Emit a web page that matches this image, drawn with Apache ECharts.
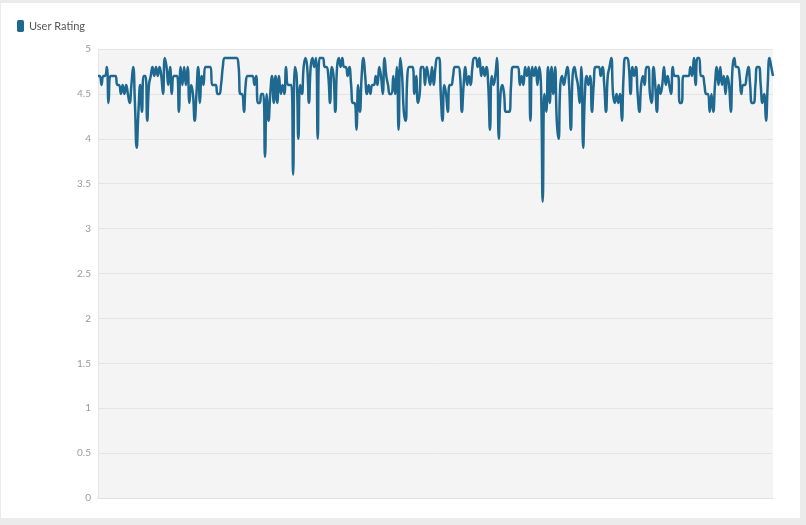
<!DOCTYPE html>
<html>
<head>
<meta charset="utf-8">
<script src="https://cdn.jsdelivr.net/npm/echarts@6/dist/echarts.min.js"></script>
<style>
  html, body { margin: 0; padding: 0; background: #ebebeb; }
  #chart { position: absolute; left: 1px; top: 3px; width: 799px; height: 515px; background: #fff; }
</style>
</head>
<body>
<div id="chart"></div>
<script>
// ratings, read left to right off the picture
const seg1 = [4.7, 4.7, 4.6, 4.7, 4.7, 4.8, 4.4, 4.7, 4.7, 4.7, 4.7, 4.6, 4.6, 4.5, 4.6, 4.5, 4.6, 4.5, 4.4, 4.6, 4.8, 4.4,
  3.9, 4.3, 4.6, 4.3, 4.7, 4.7, 4.2, 4.6, 4.7, 4.8, 4.7, 4.8, 4.7, 4.8, 4.7, 4.5, 4.9, 4.8, 4.6, 4.8, 4.5, 4.7];
const seg2 = [4.7, 4.7, 4.3, 4.8, 4.6, 4.8, 4.6, 4.8, 4.4, 4.6, 4.5, 4.2, 4.5, 4.8, 4.4, 4.7, 4.6, 4.8, 4.8, 4.8, 4.8,
  4.6, 4.6, 4.6, 4.5, 4.5, 4.6, 4.8, 4.9, 4.9, 4.9, 4.9, 4.9, 4.9, 4.9, 4.9, 4.8, 4.5, 4.5, 4.3, 4.6, 4.7, 4.7, 4.7,
  4.7, 4.6, 4.7, 4.4, 4.4];
const seg3 = [4.5, 4.5, 3.8, 4.5, 4.2, 4.5, 4.7, 4.4, 4.7, 4.4, 4.7, 4.5, 4.6, 4.5, 4.8, 4.6, 4.6, 4.6, 3.6, 4.8,
  4.7, 4.0, 4.6, 4.5, 4.8, 4.9, 4.8, 4.4, 4.8, 4.9, 4.8, 4.9, 4.0, 4.9, 4.9, 4.9, 4.8, 4.8, 4.7, 4.4, 4.8, 4.7,
  4.3, 4.8, 4.9, 4.8];
const seg4 = [4.9, 4.8, 4.8, 4.7, 4.8, 4.6, 4.4, 4.4, 4.1, 4.6, 4.3, 4.7, 4.9, 4.7, 4.5, 4.6, 4.5, 4.6, 4.6, 4.7,
  4.6, 4.8, 4.7, 4.5, 4.9, 4.7, 4.6, 4.5, 4.5, 4.7, 4.5, 4.8, 4.1, 4.9, 4.7, 4.3, 4.2, 4.7, 4.8, 4.8, 4.8, 4.5,
  4.7, 4.4, 4.5, 4.8, 4.8];
const seg5 = [4.6, 4.8, 4.7, 4.6, 4.8, 4.6, 4.8, 4.9, 4.9, 4.5, 4.2, 4.6, 4.5, 4.3, 4.6, 4.6, 4.7, 4.8, 4.8, 4.8,
  4.7, 4.3, 4.6, 4.8, 4.6, 4.7, 4.6, 4.8, 4.9, 4.9, 4.8, 4.9, 4.7, 4.8, 4.7, 4.8, 4.6, 4.1, 4.7, 4.6, 4.7, 4.9,
  4.0, 4.5, 4.6, 4.5, 4.3, 4.3];
const seg6 = [4.3, 4.6, 4.8, 4.8, 4.8, 4.8, 4.6, 4.7, 4.6, 4.8, 4.7, 4.8, 4.2, 4.8, 4.7, 4.8, 4.6, 4.8, 4.6, 3.3,
  4.5, 4.3, 4.8, 4.4, 4.8, 4.5, 4.8, 4.2, 4.0, 4.6, 4.7, 4.6, 4.7, 4.8, 4.6, 4.1, 4.7, 4.8, 4.7, 4.6, 4.4, 4.8,
  3.9, 4.5, 4.7, 4.6, 4.7, 4.3, 4.6, 4.8, 4.8];
const seg7 = [4.8, 4.7, 4.8, 4.6, 4.3, 4.7, 4.8, 4.9, 4.5, 4.4, 4.5, 4.4, 4.5, 4.2, 4.7, 4.9, 4.9, 4.8, 4.5,
  4.8, 4.7, 4.8, 4.5, 4.3, 4.6, 4.7, 4.6, 4.8, 4.8, 4.5, 4.4, 4.8, 4.6, 4.3, 4.6, 4.5, 4.6, 4.8, 4.6, 4.7,
  4.6, 4.5, 4.8, 4.7, 4.7, 4.7, 4.4, 4.4, 4.7, 4.7];
const seg8 = [4.7, 4.7, 4.8, 4.7, 4.9, 4.6, 4.9, 4.9, 4.7, 4.7, 4.6, 4.5, 4.5, 4.3, 4.5, 4.3, 4.6, 4.8, 4.6,
  4.8, 4.6, 4.7, 4.5, 4.7, 4.6, 4.3, 4.8, 4.9, 4.8, 4.8, 4.7, 4.5, 4.6, 4.6, 4.7, 4.8, 4.6, 4.4, 4.4, 4.6, 4.8,
  4.8, 4.6, 4.4, 4.5, 4.2, 4.6, 4.9, 4.8, 4.7];

const ratings = [].concat(seg1, seg2, seg3, seg4, seg5, seg6, seg7, seg8);
const apps = ratings.map(function(v, i) { return 'App ' + (i + 1); });

function renderChart() {
  const chart = echarts.init(document.getElementById('chart'));
  const option = {
    animation: false,
    textStyle: { fontFamily: 'Lato' },
    legend: {
      data: ['User Rating'],
      left: 11,
      top: 12,
      icon: 'roundRect',
      itemWidth: 7,
      itemHeight: 12,
      textStyle: { color: '#555', fontSize: 11, fontFamily: 'Lato' },
    },
    grid: {
      left: 97,
      right: 27,
      top: 46,
      bottom: 20,
      show: true,
      backgroundColor: '#f4f4f4',
      borderWidth: 0,
    },
    xAxis: {
      type: 'category',
      data: apps,
      boundaryGap: false,
      axisLabel: { show: false },
      axisTick: { show: false },
      axisLine: { show: true, lineStyle: { color: '#e0e0e0' } },
      splitLine: { show: false },
    },
    yAxis: {
      type: 'value',
      min: 0,
      max: 5,
      interval: 0.5,
      axisLine: { show: true, lineStyle: { color: '#e6e6e6' } },
      axisTick: { show: false },
      axisLabel: { color: '#9a9a9a', fontSize: 10, margin: 7 },
      splitLine: { lineStyle: { color: '#e4e4e4' } },
    },
    series: [{
      name: 'User Rating',
      type: 'line',
      data: ratings,
      smooth: true,
      showSymbol: false,
      itemStyle: { color: '#1f6991' },
      lineStyle: { color: '#1f6991', width: 2.5 },
    }]
  };
  chart.setOption(option, true);
}
renderChart();
</script>
</body>
</html>
